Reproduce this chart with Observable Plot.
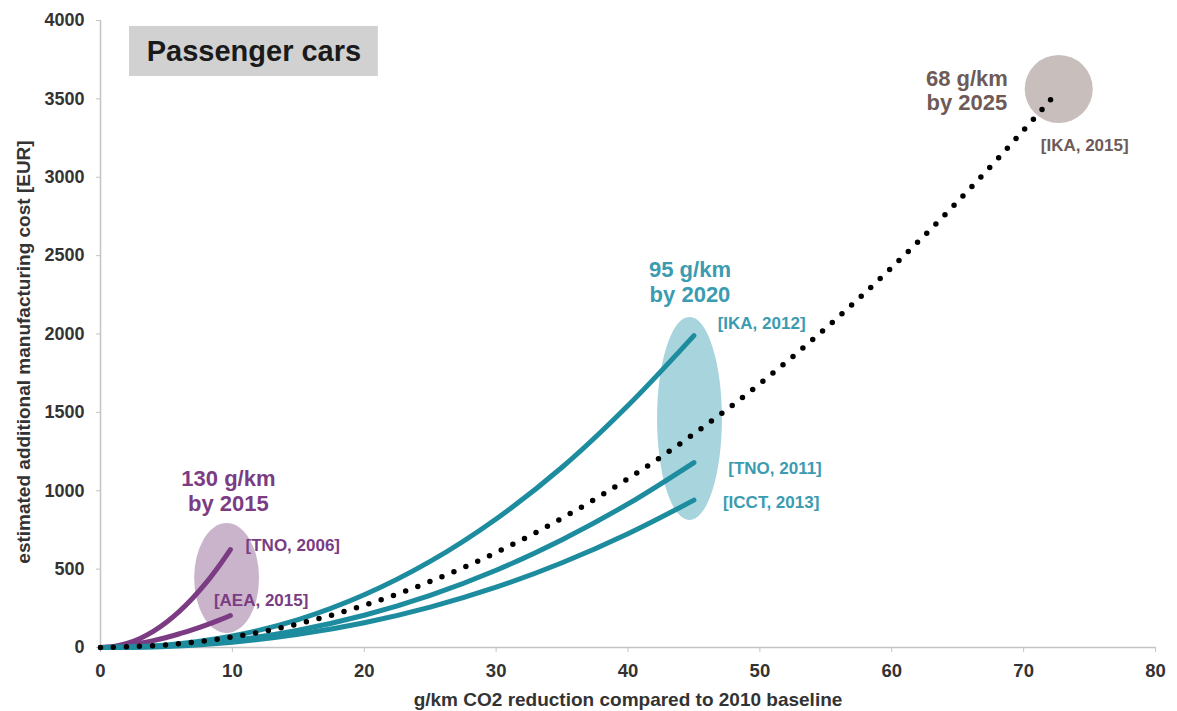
<!DOCTYPE html>
<html>
<head>
<meta charset="utf-8">
<script src="https://cdn.jsdelivr.net/npm/d3@7"></script>
<script src="https://cdn.jsdelivr.net/npm/@observablehq/plot@0.6"></script>
<style>
  html, body { margin: 0; padding: 0; background: #fff; }
  #chart svg { display: block; }
</style>
</head>
<body>
<div id="chart"></div>
<script>
// ---- data ----
const xTicks = [0, 10, 20, 30, 40, 50, 60, 70, 80];
const yTicks = [0, 500, 1000, 1500, 2000, 2500, 3000, 3500, 4000];

// 130 g/km by 2015 studies (purple)
const xPurple = [0, 1, 2, 3, 4, 5, 6, 7, 8, 9, 9.85];
const tno2006 = [0, 6, 26, 58, 103, 161, 232, 316, 412, 522, 625];
const aea2015 = [0, 4, 14, 27, 44, 64, 88, 114, 143, 175, 204];

// 95 g/km by 2020 studies (teal)
const xTeal = [0, 5, 10, 15, 20, 25, 30, 35, 40, 45];
const ika2012 = [0, 16, 73, 178, 336, 549, 820, 1150, 1544, 1990];
const tno2011 = [0, 10, 46, 111, 206, 333, 493, 688, 916, 1180];
const icct2013 = [0, 7, 34, 84, 158, 258, 385, 541, 726, 940];

// 68 g/km by 2025 (dotted black)
const xTrend = [0, 5, 10, 15, 20, 25, 30, 35, 40, 45, 50, 55, 60, 65, 70, 72.25];
const ika2015 = [0, 17, 67, 151, 269, 421, 606, 825, 1077, 1363, 1683, 2037, 2424, 2845, 3300, 3515];

// target groups: highlighted regions (centre and half-widths in data units)
const groupNames = ["130 g/km\nby 2015", "95 g/km\nby 2020", "68 g/km\nby 2025"];
const groupKeys = ["g2015", "g2020", "g2025"];
const regionCx = [9.6, 44.7, 72.7];
const regionCy = [440, 1458, 3560];
const regionRx = [2.46, 2.46, 2.58];
const regionRy = [351, 648, 217];
const groupLabelX = [9.7, 44.7, 65.7];
const groupLabelY = [1002, 2335, 3557];

// source labels
const sourceText = ["[TNO, 2006]", "[AEA, 2015]", "[IKA, 2012]", "[TNO, 2011]", "[ICCT, 2013]", "[IKA, 2015]"];
const sourceGroup = ["g2015", "g2015", "g2020", "g2020", "g2020", "g2025"];
const sourceX = [11.0, 8.6, 46.8, 47.6, 47.2, 71.3];
const sourceY = [651, 300, 2067, 1142, 925, 3203];

const titleText = "Passenger cars";
const titleBox = {x1: 2.2, x2: 21.07, y1: 3643, y2: 3962};

// ---- styles ----
const lineColor = {g2015: "#7b3c83", g2020: "#1d8c9f"};
const regionColor = {g2015: "#c9b4cc", g2020: "#a8d4dd", g2025: "#c8bfbc"};
const labelColor = {g2015: "#7b3c83", g2020: "#3a9bb1", g2025: "#6e5a57"};
const FONT = "'Liberation Sans', Arial, Helvetica, sans-serif";

// ---- tidy tables ----
const series = (name, group, xs, ys) => xs.map((x, i) => ({name, group, x, y: ys[i]}));
const purpleLines = [...series("TNO 2006", "g2015", xPurple, tno2006), ...series("AEA 2015", "g2015", xPurple, aea2015)];
const tealLines = [...series("IKA 2012", "g2020", xTeal, ika2012), ...series("TNO 2011", "g2020", xTeal, tno2011), ...series("ICCT 2013", "g2020", xTeal, icct2013)];
const trendLine = series("IKA 2015", "g2025", xTrend, ika2015);

const regions = groupKeys.map((k, i) => ({group: k, cx: regionCx[i], cy: regionCy[i], rx: regionRx[i], ry: regionRy[i]}));
const groupLabels = groupKeys.map((k, i) => ({group: k, text: groupNames[i], x: groupLabelX[i], y: groupLabelY[i]}));
const sources = sourceText.map((t, i) => ({text: t, group: sourceGroup[i], x: sourceX[i], y: sourceY[i]}));

// ellipse mark drawn through the plot's own x/y scales
function ellipses(data) {
  return Plot.dot(data, {
    x: "cx", y: "cy",
    render(index, scales, values, dimensions, context) {
      const g = d3.create("svg:g");
      for (const i of index) {
        const d = data[i];
        const cx = scales.x(d.cx), cy = scales.y(d.cy);
        g.append("ellipse")
          .attr("cx", cx).attr("cy", cy)
          .attr("rx", Math.abs(scales.x(d.cx + d.rx) - cx))
          .attr("ry", Math.abs(scales.y(d.cy + d.ry) - cy))
          .attr("fill", regionColor[d.group]);
      }
      return g.node();
    }
  });
}

const plot = Plot.plot({
  width: 1177,
  height: 711,
  marginLeft: 100,
  marginRight: 22,
  marginTop: 20,
  marginBottom: 64,
  style: {fontFamily: FONT, background: "#fff", color: "#333"},
  x: {domain: [0, 80]},
  y: {domain: [0, 4000]},
  marks: [
    ellipses(regions),
    Plot.ruleY([0], {stroke: "#c4c4c4", strokeWidth: 1.5}),
    Plot.ruleX([0], {stroke: "#c4c4c4", strokeWidth: 1.5}),
    Plot.axisX({ticks: xTicks, tickFormat: d3.format("d"), tickSize: 5, tickPadding: 11, stroke: "#c4c4c4", fill: "#333", fontSize: 18.5, fontWeight: "bold", label: null}),
    Plot.axisY({ticks: yTicks, tickFormat: d3.format("d"), tickSize: 4, tickPadding: 12, stroke: "#c4c4c4", fill: "#333", fontSize: 18, fontWeight: "bold", label: null}),
    Plot.text(["g/km CO2 reduction compared to 2010 baseline"], {
      frameAnchor: "bottom", dy: 58, fontSize: 19, fontWeight: "bold", fill: "#333"
    }),
    Plot.text(["estimated additional manufacturing cost [EUR]"], {
      frameAnchor: "left", textAnchor: "middle", rotate: -90, dx: -77, dy: 18, fontSize: 19, fontWeight: "bold", fill: "#333"
    }),
    Plot.rect([titleBox], {x1: "x1", x2: "x2", y1: "y1", y2: "y2", fill: "#d1d1d1"}),
    Plot.text([titleText], {
      x: (titleBox.x1 + titleBox.x2) / 2, y: (titleBox.y1 + titleBox.y2) / 2,
      fontSize: 29, fontWeight: "bold", fill: "#1a1a1a"
    }),
    Plot.line(purpleLines, {x: "x", y: "y", z: "name", stroke: lineColor.g2015, strokeWidth: 5, curve: "catmull-rom", strokeLinecap: "round"}),
    Plot.line(tealLines, {x: "x", y: "y", z: "name", stroke: lineColor.g2020, strokeWidth: 5, curve: "catmull-rom", strokeLinecap: "round"}),
    Plot.line(trendLine, {x: "x", y: "y", stroke: "#000", strokeWidth: 5.5, strokeDasharray: "0 13", strokeLinecap: "round", curve: "catmull-rom"}),
    ...groupKeys.map(k => Plot.text(groupLabels.filter(d => d.group === k), {
      x: "x", y: "y", text: "text", fill: labelColor[k], fontSize: 22, fontWeight: "bold", lineHeight: 1.12
    })),
    ...groupKeys.map(k => Plot.text(sources.filter(d => d.group === k), {
      x: "x", y: "y", text: "text", fill: labelColor[k], fontSize: 17, fontWeight: "bold", textAnchor: "start"
    }))
  ]
});
document.getElementById("chart").append(plot);
</script>
</body>
</html>
